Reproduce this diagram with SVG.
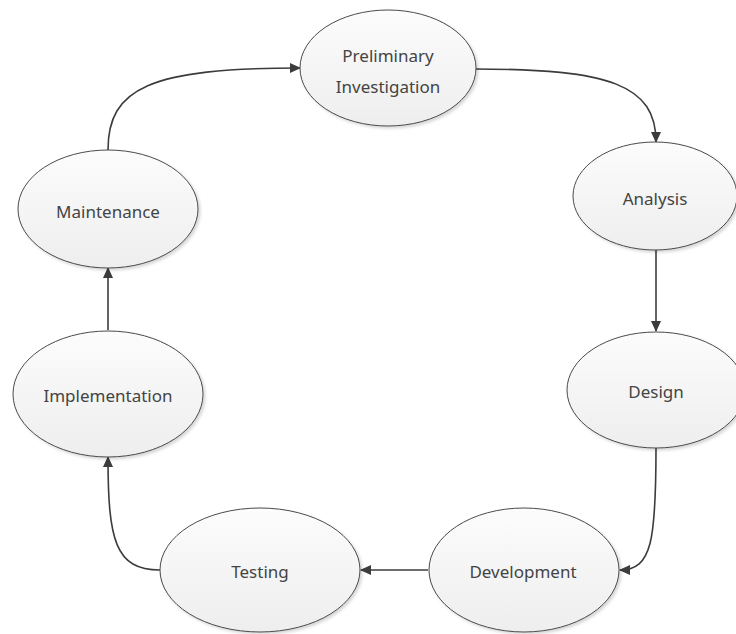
<svg xmlns="http://www.w3.org/2000/svg" width="736" height="634" viewBox="0 0 736 634">
  <defs>
    <linearGradient id="nodeFill" x1="0" y1="0" x2="0" y2="1">
      <stop offset="0" stop-color="#fcfcfc"/>
      <stop offset="1" stop-color="#eeeeee"/>
    </linearGradient>
    <filter id="shadow" x="-10%" y="-10%" width="125%" height="130%">
      <feDropShadow dx="2" dy="2" stdDeviation="1.5" flood-color="#000" flood-opacity="0.16"/>
    </filter>
    <marker id="arrow" viewBox="0 0 11 10" refX="10" refY="5" markerWidth="11" markerHeight="10" markerUnits="userSpaceOnUse" orient="auto">
      <path d="M0,0 L11,5 L0,10 z" fill="#3c3c3c"/>
    </marker>
  </defs>
  <style>
    .node ellipse { fill: url(#nodeFill); stroke: #4a4a4a; stroke-width: 1; filter: url(#shadow); }
    .node text { font-family: "Noto Sans", "Open Sans", sans-serif; font-size: 17px; fill: #444444; text-anchor: middle; }
    .edge { fill: none; stroke: #3c3c3c; stroke-width: 1.6; marker-end: url(#arrow); }
  </style>

  <rect width="736" height="634" fill="#ffffff"/>

  <g id="connectors">
    <path class="edge" d="M108,150 C108,88 150,68 300,68"/>
    <path class="edge" d="M475,69 C610,69 656,85 656,142"/>
    <path class="edge" d="M656,250 L656,331"/>
    <path class="edge" d="M656,448 C656,540 652,570 620,570"/>
    <path class="edge" d="M428,570 L361,570"/>
    <path class="edge" d="M160,570 C115,570 108,540 108,457"/>
    <path class="edge" d="M108,330 L108,268"/>
  </g>

  <g id="preliminary" class="node">
    <ellipse cx="388" cy="68" rx="88" ry="58"/>
    <text x="388" y="62">Preliminary</text>
    <text x="388" y="93">Investigation</text>
  </g>
  <g id="analysis" class="node">
    <ellipse cx="655" cy="196" rx="82" ry="54"/>
    <text x="655" y="205">Analysis</text>
  </g>
  <g id="design" class="node">
    <ellipse cx="656" cy="390" rx="89" ry="58"/>
    <text x="656" y="398">Design</text>
  </g>
  <g id="development" class="node">
    <ellipse cx="524" cy="570" rx="95" ry="62"/>
    <text x="523" y="578">Development</text>
  </g>
  <g id="testing" class="node">
    <ellipse cx="260" cy="570" rx="100" ry="62"/>
    <text x="260" y="578">Testing</text>
  </g>
  <g id="implementation" class="node">
    <ellipse cx="108" cy="394" rx="95" ry="63"/>
    <text x="108" y="402">Implementation</text>
  </g>
  <g id="maintenance" class="node">
    <ellipse cx="108" cy="209" rx="90" ry="59"/>
    <text x="108" y="218">Maintenance</text>
  </g>
</svg>
